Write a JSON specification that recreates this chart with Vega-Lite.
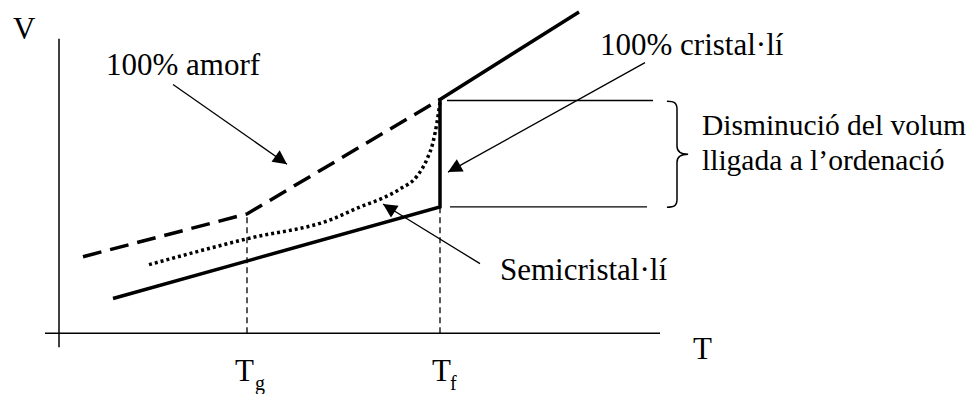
{
  "$schema": "https://vega.github.io/schema/vega-lite/v6.json",
  "width": 968,
  "height": 394,
  "autosize": {"type": "fit", "contains": "padding"},
  "padding": 0,
  "background": "white",
  "config": {"view": {"stroke": null}},
  "datasets": {
    "axes": [{"x": 59, "y": 45, "x2": 59, "y2": 355}, {"x": 45, "y": 59, "x2": 660, "y2": 59}],
    "guides": [{"x": 247, "y": 59, "x2": 247, "y2": 179}, {"x": 440, "y": 59, "x2": 440, "y2": 186}],
    "levels": [{"x": 447, "y": 293, "x2": 653, "y2": 293}, {"x": 450, "y": 186, "x2": 647, "y2": 186}],
    "shafts": [{"x": 173, "y": 309, "x2": 287, "y2": 229}, {"x": 645, "y": 331, "x2": 448, "y2": 221}, {"x": 480, "y": 129, "x2": 383, "y2": 189}],
    "crystal": [{"i": 0, "x": 113, "y": 94}, {"i": 1, "x": 440, "y": 186}, {"i": 2, "x": 440, "y": 294}, {"i": 3, "x": 579, "y": 382}],
    "amorph": [{"i": 0, "x": 83, "y": 136}, {"i": 1, "x": 247, "y": 179}, {"i": 2, "x": 440, "y": 294}],
    "semi": [
      {"i": 0, "x": 149, "y": 128}, {"i": 1, "x": 247, "y": 154}, {"i": 2, "x": 333, "y": 174},
      {"i": 3, "x": 360, "y": 186}, {"i": 4, "x": 383, "y": 195}, {"i": 5, "x": 400, "y": 204},
      {"i": 6, "x": 417, "y": 217}, {"i": 7, "x": 427, "y": 234}, {"i": 8, "x": 433, "y": 251},
      {"i": 9, "x": 437, "y": 271}, {"i": 10, "x": 440, "y": 291}
    ],
    "brace": [{"x": 677, "y": 239}],
    "labels": [
      {"x": 13, "y": 355, "label": "V"},
      {"x": 106, "y": 319, "label": "100% amorf"},
      {"x": 600, "y": 339, "label": "100% cristal·lí"},
      {"x": 500, "y": 113, "label": "Semicristal·lí"},
      {"x": 693, "y": 33, "label": "T"},
      {"x": 235, "y": 11, "label": "T"},
      {"x": 432, "y": 11, "label": "T"}
    ],
    "note": [
      {"x": 702, "y": 258, "label": "Disminució del volum"},
      {"x": 702, "y": 223, "label": "lligada a l’ordenació"}
    ],
    "subs": [
      {"x": 255, "y": 2, "label": "g"},
      {"x": 450, "y": 2, "label": "f"}
    ]
  },
  "encoding": {
    "x": {"field": "x", "type": "quantitative", "scale": {"domain": [0, 968], "nice": false, "zero": false}, "axis": null},
    "y": {"field": "y", "type": "quantitative", "scale": {"domain": [0, 394], "nice": false, "zero": false}, "axis": null}
  },
  "layer": [
    {"data": {"name": "axes"}, "mark": {"type": "rule", "color": "black", "strokeWidth": 1.5}, "encoding": {"x2": {"field": "x2"}, "y2": {"field": "y2"}}},
    {"data": {"name": "guides"}, "mark": {"type": "rule", "color": "black", "strokeWidth": 1.3, "strokeDash": [6, 4]}, "encoding": {"x2": {"field": "x2"}, "y2": {"field": "y2"}}},
    {"data": {"name": "levels"}, "mark": {"type": "rule", "color": "black", "strokeWidth": 1.3}, "encoding": {"x2": {"field": "x2"}, "y2": {"field": "y2"}}},
    {"data": {"name": "shafts"}, "mark": {"type": "rule", "color": "black", "strokeWidth": 1.3}, "encoding": {"x2": {"field": "x2"}, "y2": {"field": "y2"}}},
    {"data": {"name": "crystal"}, "mark": {"type": "line", "color": "black", "strokeWidth": 3.5, "strokeJoin": "miter"}, "encoding": {"order": {"field": "i"}}},
    {"data": {"name": "amorph"}, "mark": {"type": "line", "color": "black", "strokeWidth": 3.5, "strokeDash": [19, 9]}, "encoding": {"order": {"field": "i"}}},
    {"data": {"name": "semi"}, "mark": {"type": "line", "color": "black", "strokeWidth": 3.5, "strokeDash": [3, 3], "interpolate": "monotone"}, "encoding": {"order": {"field": "i"}}},
    {"data": {"values": [{"x": 287, "y": 229}]}, "mark": {"type": "point", "shape": "M0,0L1,2L-1,2Z", "size": 196, "filled": true, "color": "black", "opacity": 1, "strokeWidth": 0, "angle": 125.4}},
    {"data": {"values": [{"x": 448, "y": 221}]}, "mark": {"type": "point", "shape": "M0,0L1,2L-1,2Z", "size": 196, "filled": true, "color": "black", "opacity": 1, "strokeWidth": 0, "angle": 240.8}},
    {"data": {"values": [{"x": 383, "y": 189}]}, "mark": {"type": "point", "shape": "M0,0L1,2L-1,2Z", "size": 196, "filled": true, "color": "black", "opacity": 1, "strokeWidth": 0, "angle": 302.7}},
    {"data": {"name": "brace"}, "mark": {"type": "point", "shape": "M-0.19,-1C-0.05,-1 0,-0.97 0,-0.85L0,-0.15C0,-0.04 0.08,0 0.21,0C0.08,0 0,0.04 0,0.15L0,0.85C0,0.97 -0.05,1 -0.19,1", "size": 11236, "filled": false, "fill": null, "stroke": "black", "strokeWidth": 1.5, "opacity": 1}},
    {"data": {"name": "labels"}, "mark": {"type": "text", "font": "Liberation Serif", "fontSize": 31, "align": "left", "baseline": "alphabetic", "color": "black"}, "encoding": {"text": {"field": "label"}}},
    {"data": {"name": "note"}, "mark": {"type": "text", "font": "Liberation Serif", "fontSize": 29.5, "align": "left", "baseline": "alphabetic", "color": "black"}, "encoding": {"text": {"field": "label"}}},
    {"data": {"name": "subs"}, "mark": {"type": "text", "font": "Liberation Serif", "fontSize": 20, "align": "left", "baseline": "alphabetic", "color": "black"}, "encoding": {"text": {"field": "label"}}}
  ]
}
